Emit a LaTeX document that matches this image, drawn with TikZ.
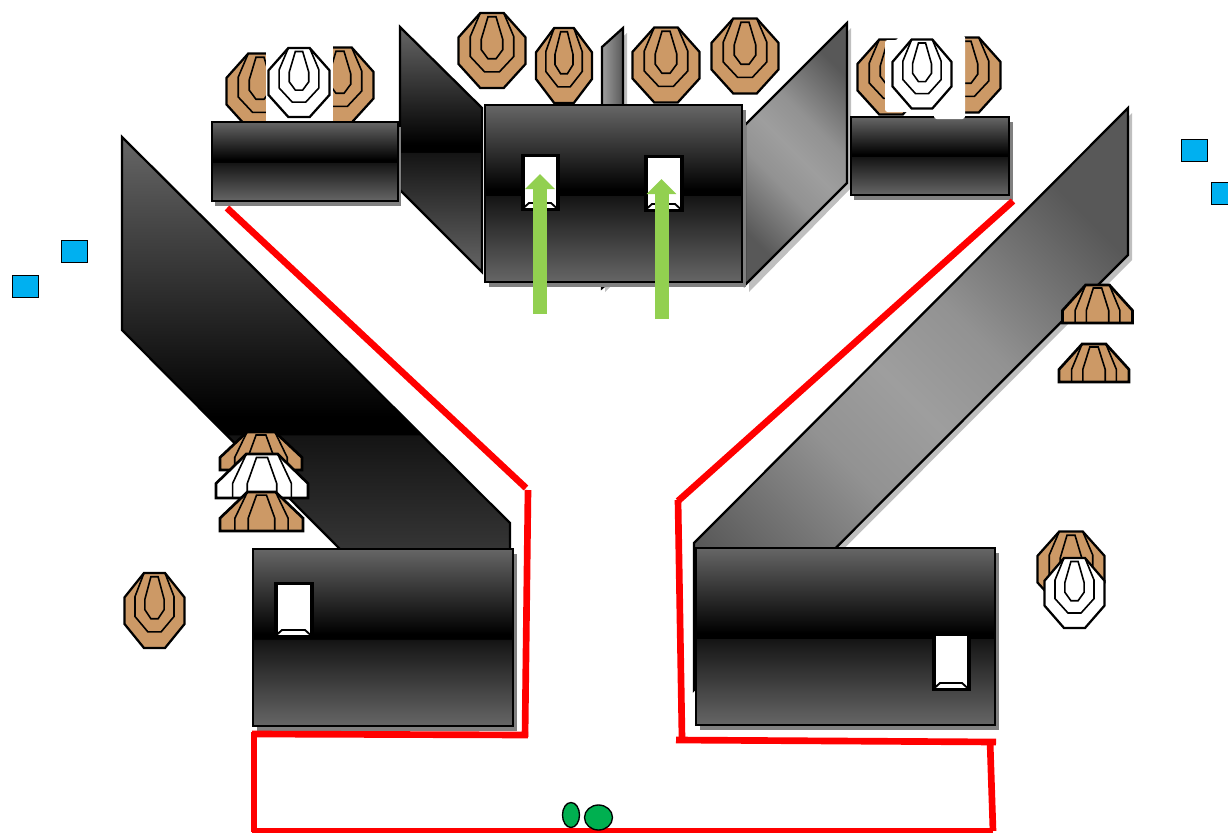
\documentclass[tikz,border=0pt]{standalone}
\usepackage{tikz}
\usetikzlibrary{arrows.meta}

\definecolor{targetbrown}{HTML}{CC9966}
\definecolor{wallgray}{HTML}{666666}
\definecolor{lowerblack}{HTML}{141414}
\definecolor{paneldark}{HTML}{585858}
\definecolor{panelmid}{HTML}{929292}
\definecolor{panellight}{HTML}{9E9E9E}
\definecolor{limegreen}{HTML}{92D050}
\definecolor{shooterblue}{HTML}{00B0F0}
\definecolor{markergreen}{HTML}{00B050}

\pgfdeclareverticalshading{wallband}{100bp}{color(0bp)=(wallgray); color(25bp)=(wallgray); color(49.4bp)=(lowerblack); color(49.5bp)=(black); color(51bp)=(black); color(75bp)=(wallgray); color(100bp)=(wallgray)}
\pgfdeclareverticalshading{panelband}{100bp}{color(0bp)=(paneldark); color(25bp)=(paneldark); color(41bp)=(panelmid); color(50bp)=(panellight); color(59bp)=(panelmid); color(75bp)=(paneldark); color(100bp)=(paneldark)}

\tikzset{
  outline/.style={draw=black, line width=1.7pt, line join=miter},
  wallshade/.style={outline, shading=wallband},
  panelshade/.style={outline, shading=panelband, shading angle=-45},
  boxshadow/.style={fill=black!50, draw=none},
  panelshadow/.style={fill=black!25, draw=none},
  tapeline/.style={draw=red, line width=5pt, line cap=butt},
  lanearrow/.style={draw=limegreen, line width=10.5pt, -{Triangle[length=11.25pt,width=21.5pt]}},
  ringline/.style={draw=black, line width=1.2pt},
  bluemark/.style={fill=shooterblue, draw=black, line width=0.5pt}
}

% upright target: centre x, centre y, half width, half height, fill
\newcommand{\targetoct}[5]{
  \begin{scope}[shift={(#1,#2)}, xscale=#3, yscale=#4]
    \filldraw[outline, fill=#5] (-.35,-1) -- (.35,-1) -- (1,-.35) -- (1,.36) -- (.35,1) -- (-.35,1) -- (-1,.36) -- (-1,-.35) -- cycle;
    \draw[ringline] (-.35,-1) -- (-.65,-.37) -- (-.65,.16) -- (-.22,.57) -- (.22,.57) -- (.65,.16) -- (.65,-.37) -- (.35,-1);
    \draw[ringline] (-.12,-.9) -- (.12,-.9) -- (.32,-.3) -- (.32,-.02) -- (.12,.22) -- (-.12,.22) -- (-.32,-.02) -- (-.32,-.3) -- cycle;
  \end{scope}
}

% target seen edge on: centre x, top y, half width, height, fill
\newcommand{\targetflat}[5]{
  \begin{scope}[shift={(#1,#2)}, xscale=#3, yscale=#4]
    \filldraw[outline, line width=2pt, fill=#5] (-.34,0) -- (.34,0) -- (1,.67) -- (1,1) -- (-1,1) -- (-1,.67) -- cycle;
    \draw[ringline] (-.34,0) -- (-.64,.67) -- (-.64,1);
    \draw[ringline] (.34,0) -- (.64,.67) -- (.64,1);
    \draw[ringline] (-.32,1) -- (-.32,.67) -- (-.12,.08) -- (.12,.08) -- (.32,.67) -- (.32,1);
  \end{scope}
}

% port in a wall: left, top, right, bottom
\newcommand{\wallport}[4]{
  \fill[black] ({#1-0.5},{#2-0.5}) rectangle ({#3+0.5},{#4+0.5});
  \fill[white] ({#1+3.5},{#2+3}) rectangle ({#3-3.5},{#4-2});
  \draw[black, line width=1.4pt] ({#1+3},{#4-2.5}) -- ({#1+8},{#4-7}) -- ({#3-8},{#4-7}) -- ({#3-3},{#4-2.5});
}

\begin{document}
\begin{tikzpicture}[x=0.75pt, y=-0.75pt]
  \useasboundingbox (0,0) rectangle (1228,832);

  % Shooters' marks at the sides
  \draw[bluemark] (61,240) rectangle (87,262);
  \draw[bluemark] (12,275) rectangle (38,297);
  \draw[bluemark] (1181,139) rectangle (1207,161);
  \draw[bluemark] (1211,182) rectangle (1237,204);

  % Long side panels
  \fill[panelshadow] (698,548) -- (1132,113) -- (1132,260) -- (698,695) -- cycle;
  \shadedraw[wallshade] (122,137) -- (510,523) -- (510,720) -- (122,330) -- cycle;
  \shadedraw[panelshade] (694,543) -- (1128,108) -- (1128,255) -- (694,690) -- cycle;

  % Targets behind the back wall
  \targetoct{492}{50.5}{33.5}{37.5}{targetbrown}
  \targetoct{564}{65.5}{28}{37.5}{targetbrown}
  \targetoct{666}{65}{33.5}{37.5}{targetbrown}
  \targetoct{745}{56}{33.5}{37.5}{targetbrown}

  % Back wall panels
  \fill[panelshadow] (606,52) -- (627,33) -- (627,270) -- (605,292) -- cycle;
  \shadedraw[outline, left color=panellight, right color=paneldark] (602,47) -- (623,28) -- (623,270) -- (602,288) -- cycle;
  \fill[panelshadow] (749,130) -- (851,28) -- (851,188) -- (749,292) -- cycle;
  \shadedraw[wallshade] (400,27) -- (482,108) -- (482,272) -- (400,190) -- cycle;
  \shadedraw[panelshade] (745,125) -- (847,23) -- (847,183) -- (745,285) -- cycle;

  % Top left group
  \targetoct{260}{91}{33.5}{37.5}{targetbrown}
  \targetoct{340}{85}{33.5}{37.5}{targetbrown}
  \fill[white] (266,44) rectangle (333,122);
  \targetoct{299}{82.5}{30.5}{34.5}{white}
  \fill[boxshadow] (215,127) rectangle (401,206);
  \shadedraw[wallshade] (212,122) rectangle (398,201);

  % Top right group
  \fill[boxshadow] (854,122) rectangle (1013,200);
  \shadedraw[wallshade] (851,117) rectangle (1009,195);
  \targetoct{891}{77}{33.5}{37.5}{targetbrown}
  \targetoct{967}{75}{33.5}{37.5}{targetbrown}
  \fill[white, rounded corners=2pt] (885,40) -- (898,40) -- (898,35) -- (965,35) -- (965,119) -- (934,119) -- (934,112) -- (885,112) -- cycle;
  \targetoct{922}{74}{29.5}{34.5}{white}

  % Back wall
  \fill[boxshadow] (489,110) rectangle (746,287);
  \shadedraw[wallshade] (485,105) rectangle (742,282);
  \wallport{521}{154}{559}{210}
  \wallport{644}{155}{683}{211}

  % Front walls
  \fill[boxshadow] (257,554) rectangle (517,731);
  \shadedraw[wallshade] (253,549) rectangle (513,726);
  \wallport{274}{582}{313}{637}
  \fill[boxshadow] (700,553) rectangle (999,730);
  \shadedraw[wallshade] (696,548) rectangle (995,725);
  \wallport{932}{633}{970}{690}

  % Targets along the left panel
  \targetflat{261}{432}{41}{38}{targetbrown}
  \targetflat{262}{454}{46}{44}{white}
  \targetflat{261.5}{492}{41.5}{39}{targetbrown}
  \targetoct{154.5}{610.5}{30}{37.5}{targetbrown}

  % Targets along the right panel
  \targetflat{1097.5}{285}{35}{38}{targetbrown}
  \targetflat{1094}{344}{35}{38}{targetbrown}
  \targetoct{1071}{569}{33.5}{37.5}{targetbrown}
  \targetoct{1074.5}{593}{30}{35}{white}

  % Fault lines
  \draw[tapeline] (227,208) -- (526,488);
  \draw[tapeline] (528,490) -- (525,737);
  \draw[tapeline] (528,735) -- (252,734);
  \draw[tapeline] (254,732) -- (254,832);
  \draw[tapeline] (252,831) -- (993,831);
  \draw[tapeline] (993,831) -- (990,740);
  \draw[tapeline] (996,742) -- (676,740);
  \draw[tapeline] (682,738) -- (678,500);
  \draw[tapeline] (678,501) -- (1013,201);

  % Movement arrows
  \draw[lanearrow] (540,314) -- (540,174);
  \draw[lanearrow] (661.5,319) -- (661.5,179);

  % Start position
  \filldraw[fill=markergreen, draw=black, line width=1pt] (571,815) ellipse (8.5 and 12.5);
  \filldraw[fill=markergreen, draw=black, line width=1pt] (598.5,817.5) ellipse (14 and 12.5);
\end{tikzpicture}
\end{document}
